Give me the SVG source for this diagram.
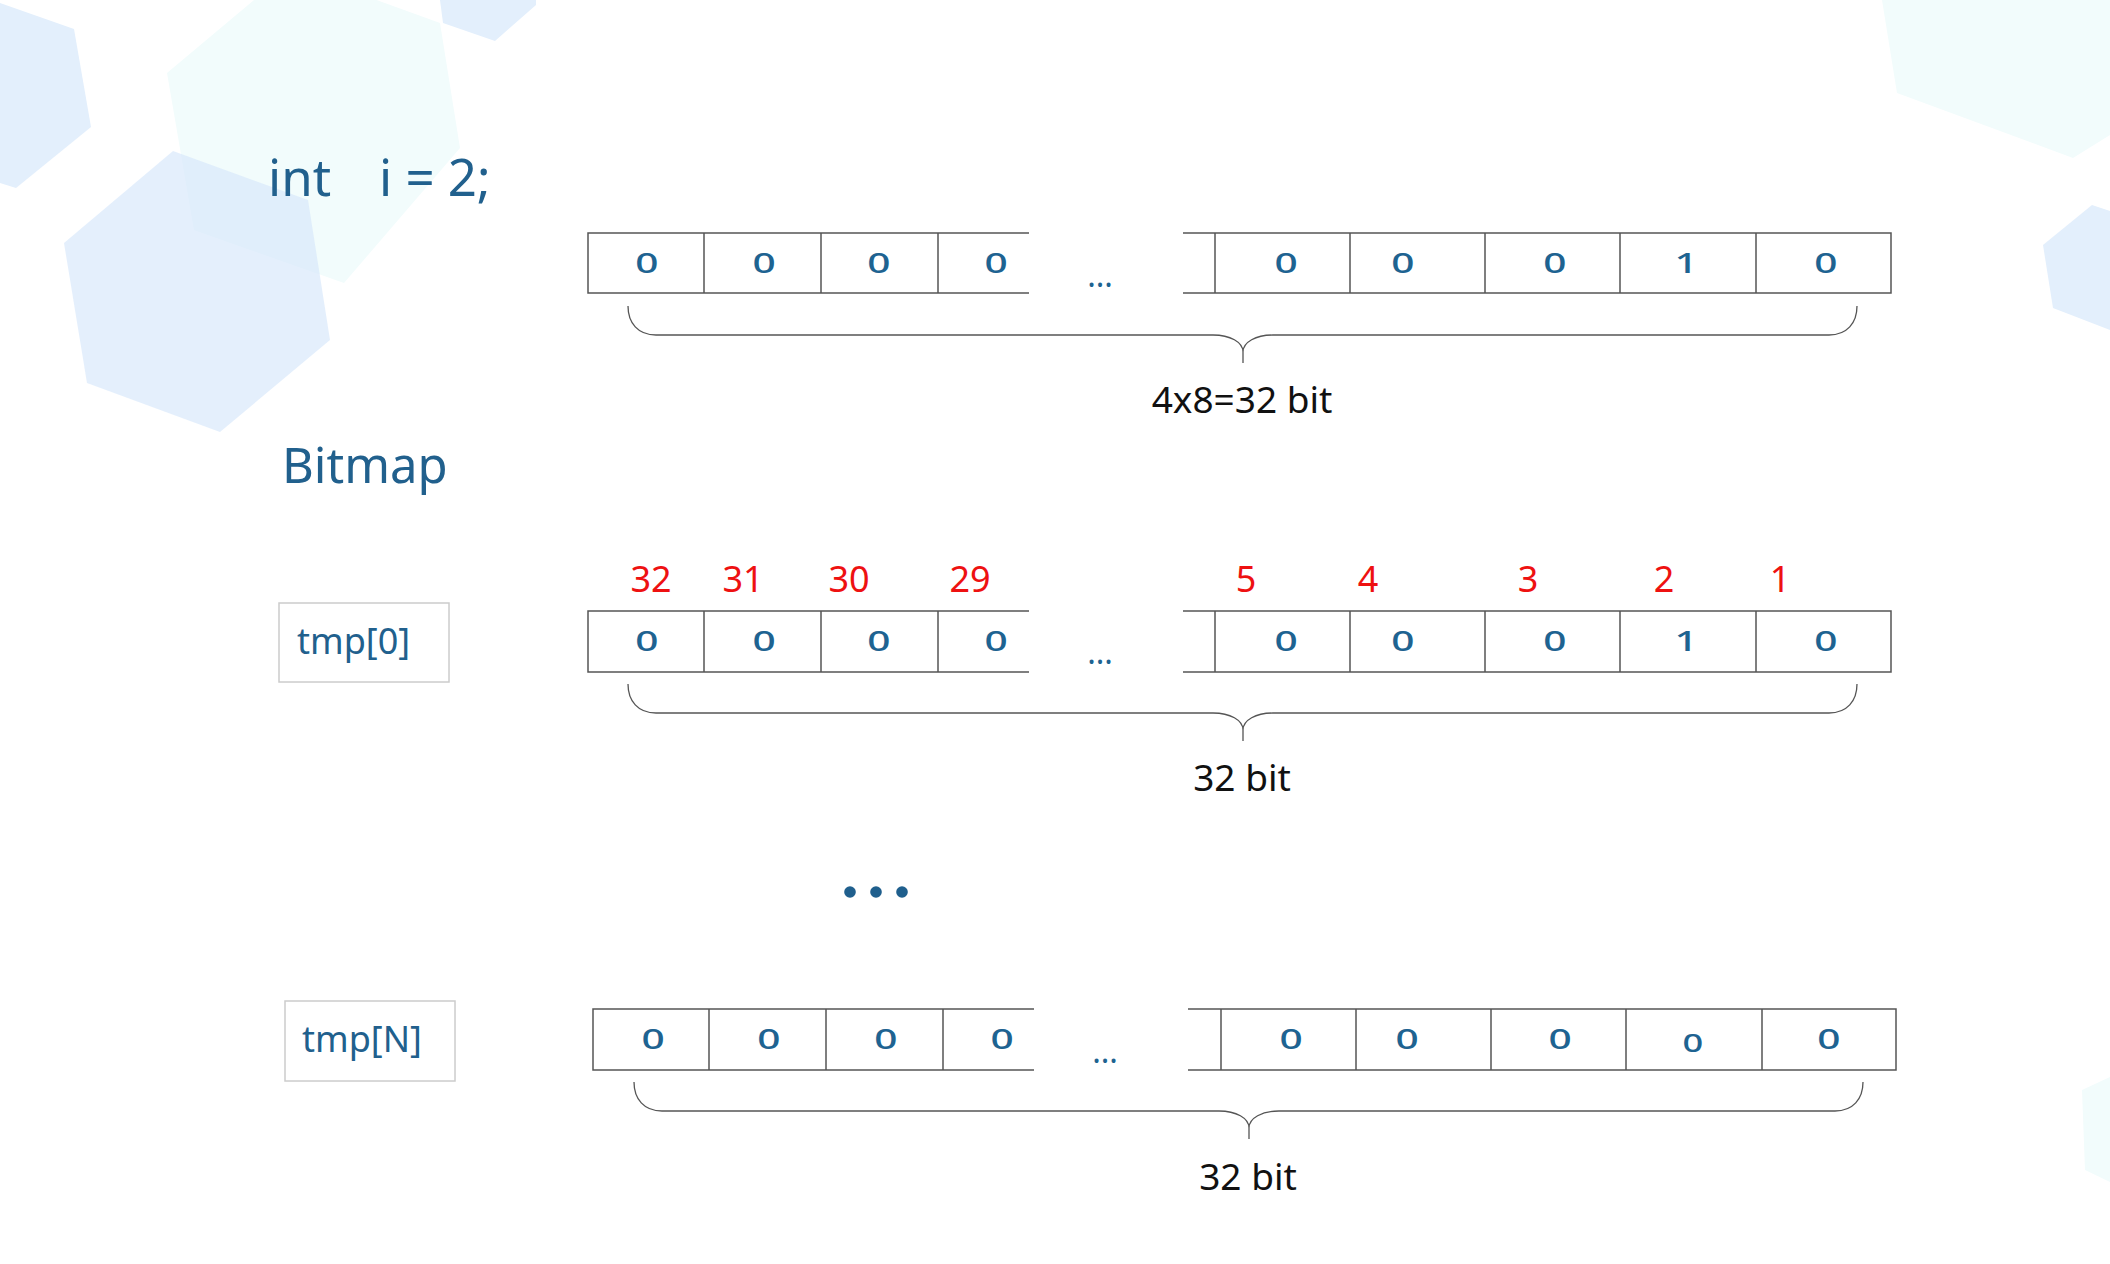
<svg xmlns="http://www.w3.org/2000/svg" xmlns:xlink="http://www.w3.org/1999/xlink" width="2110" height="1264" viewBox="0 0 2110 1264">
  <style>
    .hexb { fill: #e3effc; }
    .hexc { fill: #f2fcfc; }
    .cell { fill: none; stroke: #555555; stroke-width: 1.5; }
    .box { fill: #ffffff; stroke: #cccccc; stroke-width: 1.5; }
    .bit { font-family: "Noto Sans", "Liberation Sans", sans-serif; font-size: 28px; font-weight: 500; fill: #1e6391; text-anchor: middle; transform-box: fill-box; transform-origin: center; transform: scaleX(1.45); }
    .gap { font-family: "Noto Sans", "Liberation Sans", sans-serif; font-size: 32px; fill: #1e6391; text-anchor: middle; }
    .title { font-family: "Noto Sans", "Liberation Sans", sans-serif; font-size: 51px; fill: #21608d; }
    .name { font-family: "Noto Sans", "Liberation Sans", sans-serif; font-size: 36px; fill: #21608d; }
    .idx { font-family: "Noto Sans", "Liberation Sans", sans-serif; font-size: 36px; fill: #ee1111; text-anchor: middle; }
    .lbl { font-family: "Noto Sans", "Liberation Sans", sans-serif; font-size: 37px; fill: #111111; text-anchor: middle; }
    .brace { fill: none; stroke: #555555; stroke-width: 1.3; }
  </style>
  <defs>
    <path id="bracePath" d="M628,306 C628,323 638,335 656,335 L1213,335 C1230,335 1243,342 1243,352 L1243,363 M1243,352 C1243,342 1256,335 1273,335 L1829,335 C1847,335 1857,323 1857,306"/>
  </defs>
  <rect width="2110" height="1264" fill="#ffffff"/>
  <g id="background">
    <polygon class="hexb" points="0,3 74,29 91,127 16,188 0,183"/>
    <polygon class="hexc" points="291,-31 440,23 460,148 344,283 194,230 167,73"/>
    <polygon fill="#d5e7fb" fill-opacity="0.65" points="173,151 308,200 330,340 220,432 87,383 64,243"/>
    <polygon class="hexb" points="440,0 443,23 495,41 536,5 536,0"/>
    <polygon class="hexc" points="1882,0 1897,93 2073,158 2110,135 2110,0"/>
    <polygon class="hexb" points="2043,245 2092,205 2110,211 2110,330 2053,308"/>
    <polygon class="hexc" points="2082,1090 2110,1077 2110,1182 2085,1170"/>
  </g>

  <g id="code-title">
    <text class="title" y="196"><tspan x="268">int</tspan><tspan x="379">i = 2;</tspan></text>
  </g>

  <g id="bitmap-title">
    <text class="title" x="282" y="483" style="font-size:49px">Bitmap</text>
  </g>

  <g id="row-int">
    <path class="cell" d="M1029,233 H588 V293 H1029 M704,233 V293 M821,233 V293 M938,233 V293"/>
    <path class="cell" d="M1183,233 H1891 V293 H1183 M1215,233 V293 M1350,233 V293 M1485,233 V293 M1620,233 V293 M1756,233 V293"/>
    <text class="bit" x="647" y="273">0</text>
    <text class="bit" x="764" y="273">0</text>
    <text class="bit" x="879" y="273">0</text>
    <text class="bit" x="996" y="273">0</text>
    <text class="gap" x="1100" y="287">...</text>
    <text class="bit" x="1286" y="273">0</text>
    <text class="bit" x="1403" y="273">0</text>
    <text class="bit" x="1555" y="273">0</text>
    <text class="bit" x="1686" y="273">1</text>
    <text class="bit" x="1826" y="273">0</text>
  </g>

  <g id="label-int">
    <text class="lbl" x="1242" y="413">4x8=32 bit</text>
  </g>

  <g id="tmp0-name">
    <rect class="box" x="279" y="603" width="170" height="79"/>
    <text class="name" x="297" y="654">tmp[0]</text>
  </g>

  <g id="row-tmp0-index">
    <text class="idx" x="651" y="592">32</text>
    <text class="idx" x="743" y="592">31</text>
    <text class="idx" x="849" y="592">30</text>
    <text class="idx" x="970" y="592">29</text>
    <text class="idx" x="1246" y="592">5</text>
    <text class="idx" x="1368" y="592">4</text>
    <text class="idx" x="1528" y="592">3</text>
    <text class="idx" x="1664" y="592">2</text>
    <text class="idx" x="1780" y="592">1</text>
  </g>

  <g id="row-tmp0">
    <path class="cell" d="M1029,611 H588 V672 H1029 M704,611 V672 M821,611 V672 M938,611 V672"/>
    <path class="cell" d="M1183,611 H1891 V672 H1183 M1215,611 V672 M1350,611 V672 M1485,611 V672 M1620,611 V672 M1756,611 V672"/>
    <text class="bit" x="647" y="651">0</text>
    <text class="bit" x="764" y="651">0</text>
    <text class="bit" x="879" y="651">0</text>
    <text class="bit" x="996" y="651">0</text>
    <text class="gap" x="1100" y="664">...</text>
    <text class="bit" x="1286" y="651">0</text>
    <text class="bit" x="1403" y="651">0</text>
    <text class="bit" x="1555" y="651">0</text>
    <text class="bit" x="1686" y="651">1</text>
    <text class="bit" x="1826" y="651">0</text>
  </g>

  <g id="label-tmp0">
    <text class="lbl" x="1242" y="791">32 bit</text>
  </g>

  <g id="ellipsis">
    <circle cx="850" cy="892" r="5.8" fill="#1f5f8d"/>
    <circle cx="876" cy="892" r="5.8" fill="#1f5f8d"/>
    <circle cx="902" cy="892" r="5.8" fill="#1f5f8d"/>
  </g>

  <g id="tmpN-name">
    <rect class="box" x="285" y="1001" width="170" height="80"/>
    <text class="name" x="302" y="1052">tmp[N]</text>
  </g>

  <g id="row-tmpN">
    <path class="cell" d="M1034,1009 H593 V1070 H1034 M709,1009 V1070 M826,1009 V1070 M943,1009 V1070"/>
    <path class="cell" d="M1188,1009 H1896 V1070 H1188 M1221,1009 V1070 M1356,1009 V1070 M1491,1009 V1070 M1626,1009 V1070 M1762,1009 V1070"/>
    <text class="bit" x="653" y="1049">0</text>
    <text class="bit" x="769" y="1049">0</text>
    <text class="bit" x="886" y="1049">0</text>
    <text class="bit" x="1002" y="1049">0</text>
    <text class="gap" x="1105" y="1063">...</text>
    <text class="bit" x="1291" y="1049">0</text>
    <text class="bit" x="1407" y="1049">0</text>
    <text class="bit" x="1560" y="1049">0</text>
    <text class="bit" x="1693" y="1052" style="font-size:25px">0</text>
    <text class="bit" x="1829" y="1049">0</text>
  </g>

  <g id="label-tmpN">
    <text class="lbl" x="1248" y="1190">32 bit</text>
  </g>

  <g id="connectors">
    <use xlink:href="#bracePath" class="brace"/>
    <use xlink:href="#bracePath" class="brace" transform="translate(0,378)"/>
    <use xlink:href="#bracePath" class="brace" transform="translate(6,776)"/>
  </g>
</svg>
